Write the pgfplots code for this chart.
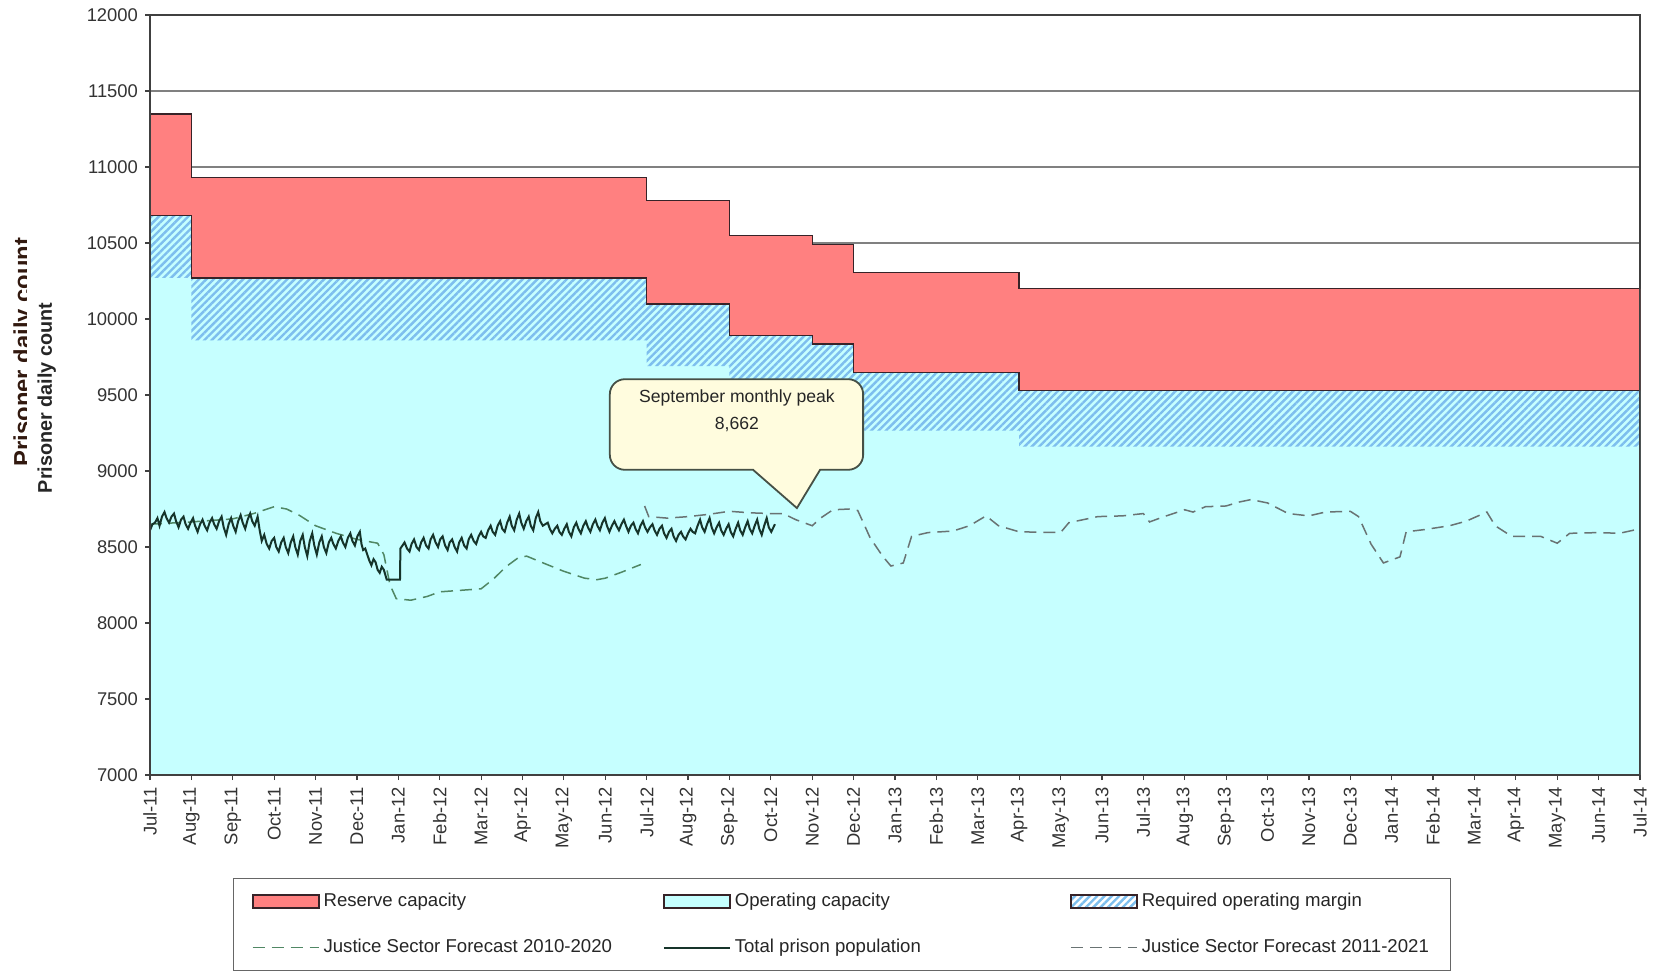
\documentclass[border=0pt]{standalone}
\usepackage{pgfplots}
\pgfplotsset{compat=1.18}
\usepackage{fontspec}
\setmainfont{Liberation Sans}
\usetikzlibrary{patterns.meta}

\definecolor{redfill}{RGB}{255,128,128}
\definecolor{cyanfill}{RGB}{198,255,255}
\definecolor{hatchblue}{RGB}{125,190,238}
\definecolor{edge}{RGB}{55,35,40}
\definecolor{popline}{RGB}{22,52,42}
\definecolor{fcA}{RGB}{80,135,100}
\definecolor{fcB}{RGB}{105,115,115}
\definecolor{gridgray}{RGB}{128,128,128}
\definecolor{cream}{RGB}{255,252,222}
\definecolor{calloutedge}{RGB}{70,80,70}
\definecolor{labeldark}{RGB}{50,25,15}

\pgfplotsset{
  boxlegend/.style={legend image code/.code={\draw[##1] (0pt,-3.4pt) rectangle (33pt,3.4pt);}},
  linelegend/.style={legend image code/.code={\draw[##1] (0pt,0pt) -- (33pt,0pt);}},
}

\pgfplotstableread{
x y
0.00 8610
0.06 8650
0.12 8660
0.18 8690
0.23 8640
0.29 8700
0.35 8730
0.40 8690
0.46 8660
0.52 8700
0.58 8720
0.63 8670
0.69 8630
0.75 8680
0.81 8700
0.86 8650
0.92 8620
0.98 8660
1.04 8690
1.09 8640
1.15 8600
1.21 8650
1.27 8680
1.32 8640
1.38 8610
1.44 8660
1.50 8690
1.55 8650
1.61 8620
1.67 8670
1.73 8700
1.78 8630
1.84 8580
1.90 8650
1.96 8690
2.01 8640
2.07 8600
2.13 8670
2.19 8710
2.24 8660
2.30 8620
2.36 8680
2.42 8720
2.47 8670
2.53 8640
2.60 8700
2.65 8610
2.70 8540
2.76 8580
2.82 8520
2.88 8490
2.94 8540
3.00 8560
3.05 8500
3.11 8470
3.17 8530
3.23 8560
3.28 8500
3.34 8460
3.40 8530
3.46 8570
3.51 8500
3.57 8450
3.63 8540
3.69 8580
3.74 8500
3.80 8440
3.86 8540
3.92 8590
3.97 8510
4.03 8450
4.09 8530
4.15 8570
4.20 8500
4.26 8460
4.32 8530
4.38 8560
4.43 8520
4.49 8490
4.55 8540
4.61 8570
4.66 8530
4.72 8500
4.78 8560
4.84 8590
4.89 8540
4.95 8510
5.01 8570
5.07 8600
5.11 8520
5.15 8480
5.20 8490
5.25 8450
5.30 8410
5.35 8380
5.40 8420
5.45 8400
5.50 8350
5.55 8330
5.60 8370
5.65 8350
5.72 8285
6.04 8285
6.05 8490
6.10 8510
6.15 8530
6.21 8490
6.27 8470
6.32 8520
6.38 8550
6.44 8500
6.50 8480
6.55 8530
6.61 8560
6.67 8510
6.73 8490
6.78 8550
6.84 8580
6.90 8530
6.96 8500
7.01 8550
7.07 8570
7.13 8510
7.19 8480
7.24 8530
7.30 8550
7.36 8500
7.42 8470
7.47 8530
7.53 8560
7.59 8510
7.65 8490
7.70 8550
7.76 8580
7.82 8540
7.88 8520
7.94 8570
8.00 8600
8.05 8570
8.11 8560
8.17 8610
8.23 8640
8.28 8600
8.34 8580
8.40 8640
8.46 8670
8.51 8620
8.57 8600
8.63 8660
8.69 8700
8.74 8640
8.80 8610
8.86 8680
8.92 8720
8.97 8660
9.03 8620
9.09 8670
9.15 8700
9.20 8640
9.26 8610
9.32 8690
9.38 8730
9.43 8670
9.49 8640
9.55 8650
9.61 8660
9.66 8620
9.72 8590
9.78 8620
9.84 8640
9.89 8600
9.95 8580
10.01 8620
10.07 8650
10.12 8600
10.18 8570
10.24 8630
10.30 8660
10.35 8620
10.41 8590
10.47 8640
10.53 8670
10.58 8630
10.64 8600
10.70 8650
10.76 8680
10.81 8640
10.87 8610
10.93 8660
10.99 8690
11.04 8640
11.10 8600
11.16 8640
11.22 8670
11.27 8640
11.33 8610
11.39 8650
11.45 8680
11.50 8640
11.56 8600
11.62 8640
11.68 8660
11.73 8620
11.79 8590
11.85 8640
11.91 8670
11.96 8630
12.02 8600
12.08 8630
12.14 8650
12.19 8610
12.25 8580
12.31 8620
12.37 8640
12.42 8590
12.48 8560
12.54 8600
12.60 8620
12.65 8570
12.71 8540
12.77 8580
12.83 8600
12.88 8570
12.94 8550
13.00 8590
13.06 8620
13.11 8600
13.17 8590
13.23 8640
13.29 8680
13.34 8630
13.40 8600
13.46 8650
13.52 8690
13.57 8630
13.63 8590
13.69 8630
13.75 8660
13.80 8610
13.86 8580
13.92 8620
13.98 8650
14.03 8600
14.09 8570
14.15 8620
14.21 8660
14.26 8610
14.32 8580
14.38 8630
14.44 8670
14.49 8620
14.55 8590
14.61 8640
14.67 8680
14.72 8620
14.78 8580
14.84 8640
14.90 8690
14.95 8630
15.01 8600
15.10 8650
}\population

\pgfplotstableread{
x y
0 8650
1 8665
2 8685
2.5 8720
3 8765
3.3 8750
3.6 8710
4 8640
4.5 8590
5 8550
5.5 8525
5.65 8450
5.8 8250
5.95 8160
6.3 8150
6.7 8175
7.0 8205
7.5 8215
8.0 8225
8.3 8290
8.6 8370
8.9 8430
9.1 8440
9.5 8395
10.0 8340
10.5 8295
10.8 8285
11.0 8295
11.4 8335
11.86 8385
}\forecastA

\pgfplotstableread{
x y
11.95 8770
12.05 8700
12.5 8690
13.0 8700
13.5 8715
14.0 8735
14.5 8725
15.0 8720
15.3 8720
15.6 8680
16.0 8640
16.2 8690
16.5 8745
16.9 8750
17.1 8740
17.4 8560
17.7 8440
17.9 8375
18.2 8395
18.4 8570
18.8 8595
19.4 8605
19.8 8640
20.2 8705
20.5 8640
21.0 8600
22.0 8595
22.2 8660
22.9 8700
23.5 8705
24.0 8720
24.15 8665
24.5 8700
25.0 8745
25.2 8730
25.5 8765
26.0 8770
26.3 8795
26.6 8812
27.0 8790
27.5 8720
28.0 8705
28.4 8730
29.0 8735
29.2 8700
29.5 8520
29.8 8395
30.2 8435
30.35 8600
30.8 8615
31.4 8640
31.8 8670
32.3 8730
32.5 8640
32.9 8570
33.6 8570
34.0 8525
34.3 8590
35.0 8595
35.5 8590
36 8620
}\forecastB

\begin{document}
\begin{tikzpicture}
\useasboundingbox (-75pt,-98pt) rectangle (754pt,387.5pt);
\begin{axis}[
  at={(0,0)}, anchor=south west,
  scale only axis, width=745pt, height=380pt,
  xmin=0, xmax=36, ymin=7000, ymax=12000,
  xtick={0,...,36},
  xticklabels={Jul-11,Aug-11,Sep-11,Oct-11,Nov-11,Dec-11,Jan-12,Feb-12,Mar-12,Apr-12,May-12,Jun-12,Jul-12,Aug-12,Sep-12,Oct-12,Nov-12,Dec-12,Jan-13,Feb-13,Mar-13,Apr-13,May-13,Jun-13,Jul-13,Aug-13,Sep-13,Oct-13,Nov-13,Dec-13,Jan-14,Feb-14,Mar-14,Apr-14,May-14,Jun-14,Jul-14},
  ytick={7000,7500,...,12000},
  scaled y ticks=false,
  yticklabel style={/pgf/number format/fixed, /pgf/number format/precision=0},
  xticklabel style={rotate=90, anchor=east},
  /pgf/number format/assume math mode=true,
  /pgf/number format/1000 sep={},
  tick label style={font=\fontsize{9.2}{10}\selectfont, text=black!80},
  tick align=outside, xtick pos=left, ytick pos=left, major tick length=2.5pt,
  tick style={black!75, line width=0.6pt},
  ymajorgrids, grid style={gridgray, line width=0.8pt},
  axis line style={black!75, line width=0.7pt},
  legend style={at={(0.0557,-0.1355)}, anchor=north west, draw=black!60, line width=0.6pt, fill=white,
    inner xsep=9pt, inner ysep=5.4pt, row sep=10.8pt, font=\fontsize{9.3}{10.5}\selectfont, text=black!85},
  legend columns=3, legend cell align=left,
]
% operating capacity (cyan)
\addplot[fill=cyanfill, draw=none, forget plot] coordinates {
 (0,7000) (0,10680) (1,10680) (1,10270) (12,10270) (12,10100) (14,10100) (14,9890) (16,9890) (16,9835)
 (17,9835) (17,9650) (21,9650) (21,9530) (36,9530) (36,7000)} -- cycle;
% required operating margin (hatched)
\addplot[pattern={Lines[angle=45,distance=2.6pt,line width=1.2pt]}, pattern color=hatchblue, draw=none, forget plot] coordinates {
 (0,10680) (1,10680) (1,10270) (12,10270) (12,10100) (14,10100) (14,9890) (16,9890) (16,9835)
 (17,9835) (17,9650) (21,9650) (21,9530) (36,9530)
 (36,9160) (21,9160) (21,9265) (17,9265) (17,9425) (16,9425) (16,9480) (14,9480) (14,9690) (12,9690)
 (12,9860) (1,9860) (1,10270) (0,10270)} -- cycle;
% reserve capacity (red)
\addplot[fill=redfill, draw=none, forget plot] coordinates {
 (0,11350) (1,11350) (1,10930) (12,10930) (12,10780) (14,10780) (14,10550) (16,10550) (16,10490)
 (17,10490) (17,10305) (21,10305) (21,10200) (36,10200)
 (36,9530) (21,9530) (21,9650) (17,9650) (17,9835) (16,9835) (16,9890) (14,9890) (14,10100) (12,10100)
 (12,10270) (1,10270) (1,10680) (0,10680)} -- cycle;
\addplot[const plot, draw=edge, line width=0.7pt, forget plot] coordinates {
 (0,11350) (1,10930) (12,10780) (14,10550) (16,10490) (17,10305) (21,10200) (36,10200)};
\addplot[const plot, draw=edge, line width=0.7pt, forget plot] coordinates {
 (0,10680) (1,10270) (12,10100) (14,9890) (16,9835) (17,9650) (21,9530) (36,9530)};
% forecasts and population
\addplot[fcA, line width=0.75pt, dash pattern=on 6pt off 3.5pt, forget plot] table {\forecastA};
\addplot[fcB, line width=0.75pt, dash pattern=on 6pt off 3.5pt, forget plot] table {\forecastB};
\addplot[popline, line width=1pt, forget plot] table {\population};
% callout
\draw[fill=cream, draw=calloutedge, line width=0.9pt]
 (axis cs:15.63,8756) -- (axis cs:16.19,9008) -- (axis cs:16.5,9008)
 [rounded corners=7.5pt] -- (axis cs:17.23,9008) -- (axis cs:17.23,9604) -- (axis cs:11.11,9604)
 -- (axis cs:11.11,9008) -- (axis cs:12,9008) [sharp corners] -- (axis cs:14.57,9008) -- cycle;
\node[align=center, font=\fontsize{8.8}{13.5}\selectfont, text=black!85] at (axis cs:14.18,9395)
 {September monthly peak\\8,662};
\draw[black!75, line width=0.7pt] (rel axis cs:0,0) rectangle (rel axis cs:1,1);
% legend
\addlegendimage{boxlegend, fill=redfill, draw=edge, line width=1pt}
\addlegendentry{\makebox[167.6pt][l]{Reserve capacity}}
\addlegendimage{boxlegend, fill=cyanfill, draw=edge, line width=1pt}
\addlegendentry{\makebox[165.5pt][l]{Operating capacity}}
\addlegendimage{boxlegend, pattern={Lines[angle=45,distance=2.6pt,line width=1.2pt]}, pattern color=hatchblue, draw=edge, line width=1pt}
\addlegendentry{Required operating margin}
\addlegendimage{linelegend, fcA, line width=0.75pt, dash pattern=on 6pt off 3.5pt}
\addlegendentry{\makebox[167.6pt][l]{Justice Sector Forecast 2010-2020}}
\addlegendimage{linelegend, popline, line width=1pt}
\addlegendentry{\makebox[165.5pt][l]{Total prison population}}
\addlegendimage{linelegend, fcB, line width=0.75pt, dash pattern=on 6pt off 3.5pt}
\addlegendentry{Justice Sector Forecast 2011-2021}
\end{axis}
\begin{scope}
\clip (-75pt,0pt) rectangle (-61.5pt,387pt);
\node[rotate=90, anchor=base, font=\bfseries\fontsize{11.9}{14}\selectfont, text=labeldark] at (-59.7pt,211.5pt) {Prisoner daily count};
\end{scope}
\node[rotate=90, anchor=base, font=\bfseries\fontsize{9.9}{12}\selectfont, text=black!85] at (-49pt,188.5pt) {Prisoner daily count};
\end{tikzpicture}
\end{document}
